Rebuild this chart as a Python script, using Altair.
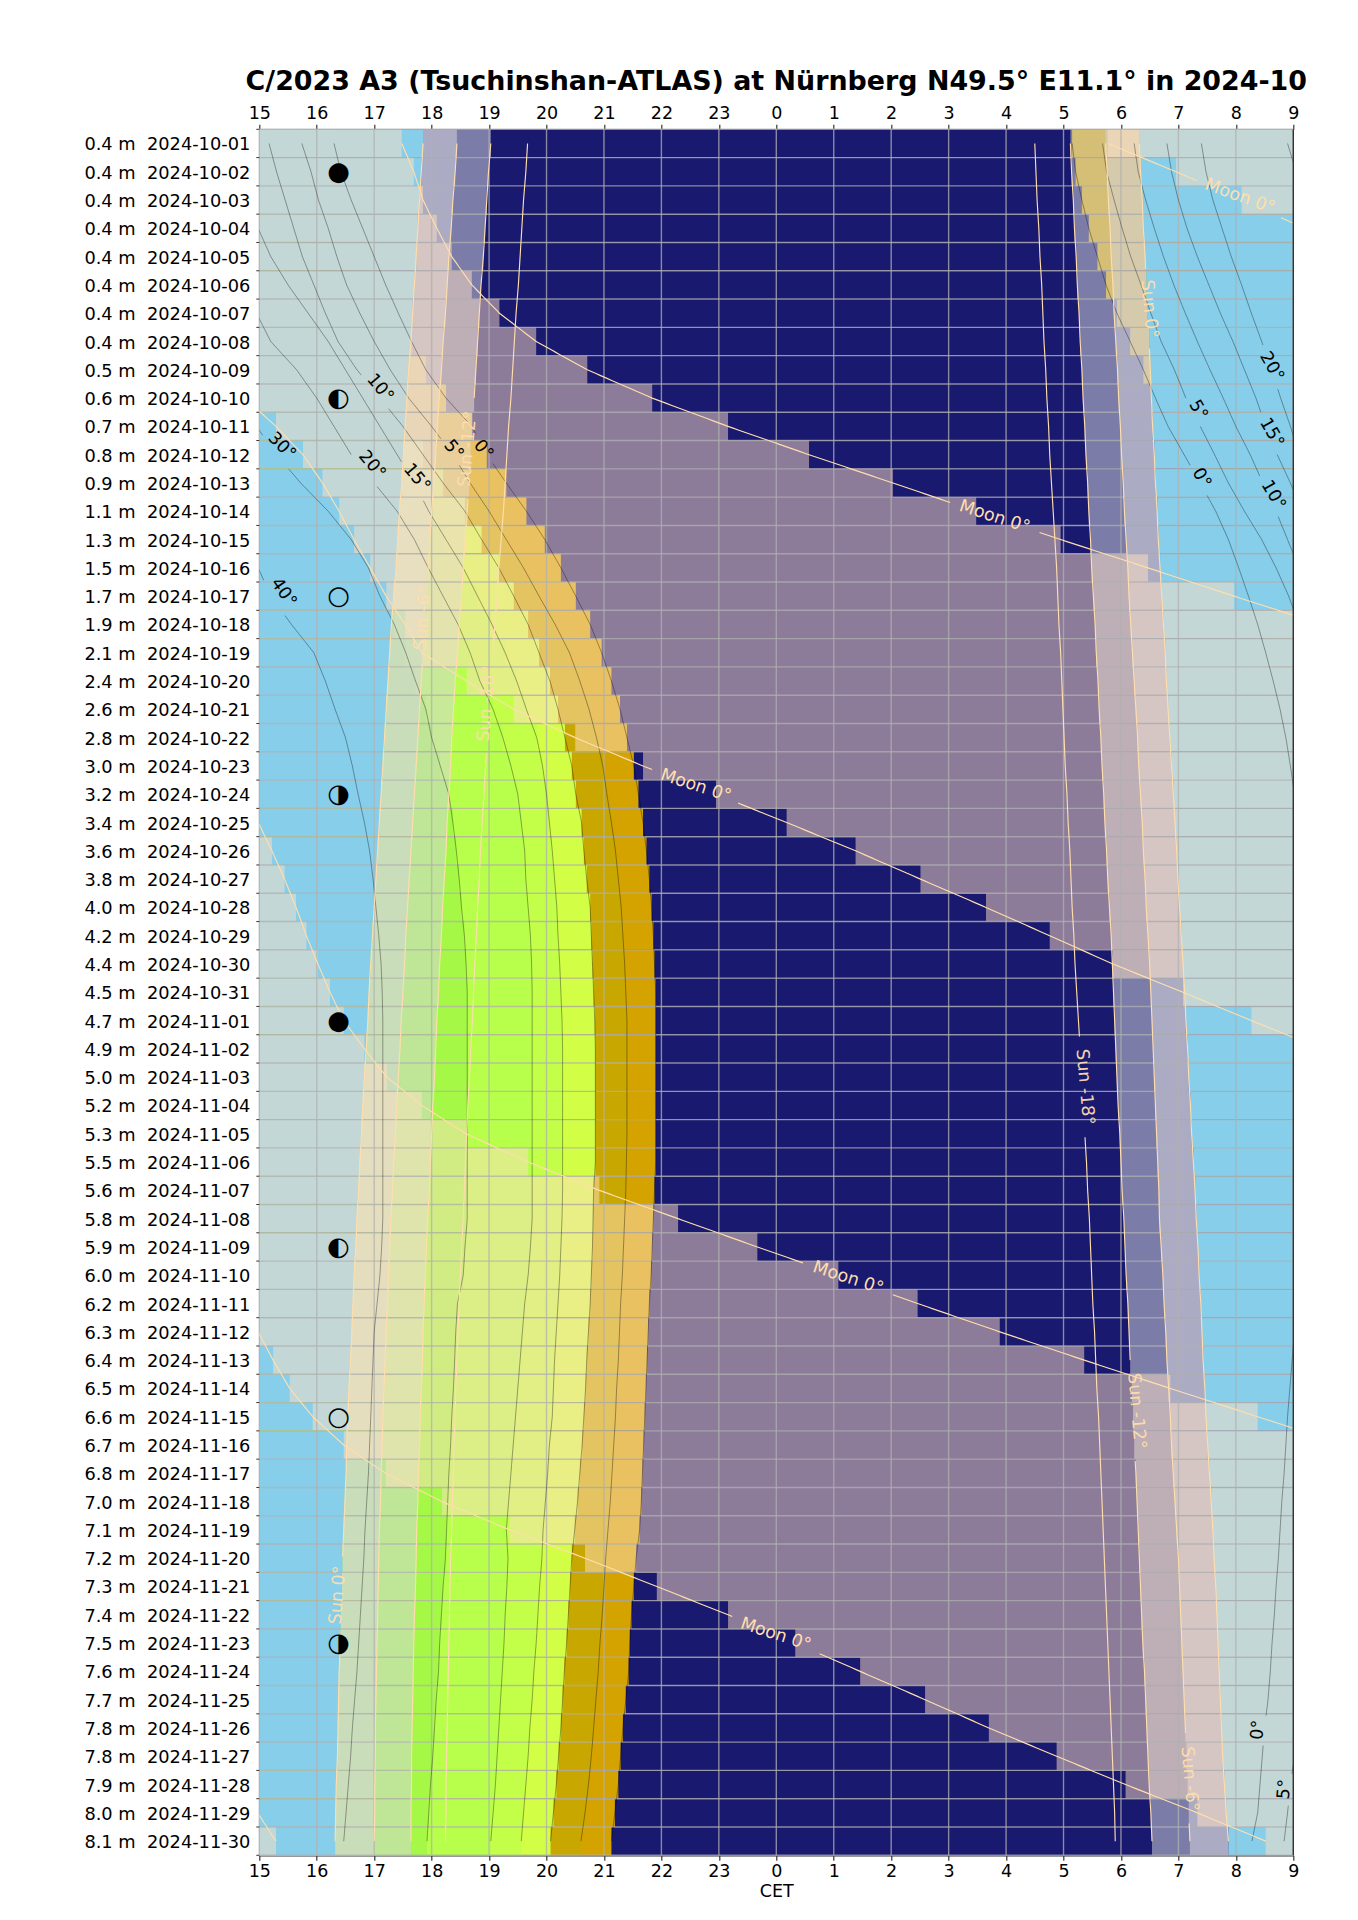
import math
import datetime as dt
import altair as alt
import pandas as pd

TITLE = "C/2023 A3 (Tsuchinshan-ATLAS) at Nürnberg N49.5° E11.1° in 2024-10"
dist = [0.4]*8 + [0.5,0.6,0.7,0.8,0.9,1.1,1.3,1.5,1.7,1.9,2.1,2.4,2.6,2.8,3.0,3.2,3.4,3.6,3.8,4.0,4.2,4.4,4.5,4.7,4.9,5.0,5.2,5.3,5.5,5.6,5.8,5.9,6.0,6.2,6.3,6.4,6.5,6.6,6.7,6.8,7.0,7.1,7.2,7.3,7.4,7.5,7.6,7.7,7.8,7.8,7.9,8.0,8.1]
first_day = dt.date(2024,10,1)
row_labels = [f"{d:.1f} m\u00a0\u00a0{(first_day+dt.timedelta(days=i)).isoformat()}" for i,d in enumerate(dist)]
N = len(row_labels)

# Sun altitude crossings, hours after midnight of the row's date (one value per row)
sun0e = [17.85,17.82,17.79,17.76,17.73,17.70,17.67,17.64,17.60,17.57,17.54,17.51,17.48,17.44,17.41,17.38,17.34,17.30,17.27,17.24,17.21,17.18,17.15,17.12,17.09,17.06,17.03,17.00,16.97,16.94,16.91,16.89,16.86,16.83,16.80,16.78,16.75,16.73,16.70,16.68,16.65,16.63,16.61,16.59,16.56,16.54,16.52,16.51,16.49,16.47,16.45,16.44,16.42,16.41,16.39,16.38,16.37,16.36,16.34,16.33,16.32]
sun6e = [18.44,18.41,18.37,18.34,18.30,18.27,18.24,18.20,18.17,18.13,18.10,18.07,18.04,18.00,17.97,17.94,17.91,17.88,17.85,17.82,17.79,17.76,17.73,17.70,17.67,17.64,17.61,17.58,17.55,17.53,17.50,17.47,17.45,17.42,17.39,17.37,17.34,17.32,17.29,17.27,17.25,17.23,17.21,17.19,17.17,17.15,17.14,17.12,17.11,17.09,17.08,17.07,17.06,17.05,17.04,17.03,17.02,17.02,17.01,17.01,17.0]
sun12e = [19.03,18.99,18.96,18.93,18.90,18.86,18.83,18.80,18.77,18.74,18.71,18.68,18.65,18.62,18.58,18.55,18.52,18.48,18.45,18.41,18.38,18.35,18.33,18.30,18.27,18.25,18.22,18.19,18.17,18.14,18.12,18.09,18.07,18.05,18.02,18.00,17.98,17.96,17.93,17.91,17.89,17.87,17.85,17.84,17.82,17.80,17.79,17.77,17.76,17.74,17.73,17.72,17.70,17.69,17.68,17.67,17.66,17.65,17.65,17.64,17.64]
sun18e = [19.67,19.64,19.60,19.57,19.54,19.51,19.47,19.44,19.41,19.38,19.34,19.31,19.28,19.25,19.21,19.17,19.14,19.10,19.07,19.03,19.00,18.97,18.94,18.91,18.88,18.85,18.83,18.80,18.78,18.75,18.73,18.71,18.68,18.66,18.63,18.61,18.59,18.57,18.55,18.52,18.50,18.48,18.46,18.44,18.42,18.41,18.39,18.38,18.36,18.35,18.33,18.32,18.31,18.30,18.29,18.28,18.27,18.26,18.25,18.25,18.24]
sun18m = [28.50,28.52,28.54,28.57,28.59,28.62,28.64,28.66,28.69,28.71,28.74,28.76,28.79,28.82,28.85,28.88,28.90,28.92,28.95,28.97,28.99,29.01,29.03,29.06,29.08,29.11,29.13,29.15,29.18,29.20,29.23,29.26,29.29,29.31,29.34,29.37,29.40,29.42,29.45,29.47,29.49,29.51,29.54,29.56,29.58,29.61,29.63,29.65,29.67,29.69,29.71,29.73,29.75,29.77,29.79,29.81,29.83,29.85,29.87,29.89,29.90]
sun12m = [29.12,29.14,29.17,29.19,29.22,29.24,29.27,29.29,29.32,29.34,29.37,29.39,29.42,29.44,29.47,29.49,29.52,29.55,29.57,29.60,29.62,29.65,29.67,29.70,29.72,29.75,29.77,29.80,29.83,29.85,29.87,29.89,29.91,29.93,29.95,29.98,30.00,30.02,30.05,30.07,30.09,30.12,30.14,30.16,30.19,30.21,30.23,30.26,30.28,30.30,30.32,30.34,30.36,30.38,30.41,30.43,30.45,30.47,30.49,30.52,30.54]
sun6m = [29.73,29.76,29.78,29.81,29.83,29.86,29.88,29.91,29.94,29.96,29.99,30.01,30.04,30.06,30.09,30.12,30.14,30.17,30.20,30.23,30.26,30.29,30.31,30.34,30.37,30.39,30.42,30.44,30.47,30.50,30.52,30.54,30.56,30.58,30.60,30.62,30.64,30.66,30.67,30.70,30.73,30.75,30.78,30.80,30.83,30.86,30.88,30.91,30.94,30.97,31.0,31.02,31.04,31.06,31.08,31.10,31.12,31.14,31.16,31.18,31.2]
sun0m = [30.32,30.34,30.37,30.39,30.42,30.44,30.46,30.49,30.51,30.53,30.55,30.58,30.60,30.63,30.65,30.68,30.71,30.74,30.77,30.79,30.82,30.85,30.88,30.91,30.94,30.97,30.99,31.02,31.05,31.08,31.11,31.13,31.16,31.18,31.21,31.23,31.26,31.29,31.31,31.34,31.36,31.39,31.41,31.43,31.46,31.48,31.51,31.54,31.57,31.60,31.62,31.65,31.67,31.69,31.71,31.73,31.75,31.77,31.80,31.83,31.87]

# Comet altitude contours, evening (first_row, values)
c0 = (0,[16.30,16.42,16.6,16.8,17.0,17.2,17.42,17.65,17.9,18.25,18.7,18.96,19.3,19.65,19.97,20.25,20.51,20.76,20.96,21.13,21.28,21.40,21.52,21.6,21.68,21.74,21.79,21.83,21.86,21.88,21.9,21.9,21.9,21.9,21.9,21.9,21.9,21.88,21.86,21.84,21.82,21.79,21.77,21.75,21.73,21.71,21.69,21.67,21.65,21.62,21.56,21.52,21.48,21.45,21.43,21.38,21.33,21.29,21.25,21.19,21.13])
c5 = (0,[15.74,15.9,16.03,16.2,16.35,16.52,16.75,17.0,17.28,17.6,18.0,18.37,18.67,19.0,19.3,19.6,19.87,20.15,20.4,20.58,20.74,20.87,20.98,21.05,21.13,21.2,21.25,21.3,21.33,21.36,21.38,21.4,21.4,21.4,21.4,21.4,21.39,21.38,21.36,21.34,21.32,21.29,21.27,21.25,21.22,21.2,21.17,21.14,21.11,21.07,21.03,21.0,20.97,20.93,20.9,20.86,20.82,20.78,20.73,20.67,20.6])
c10 = (0,[15.17,15.3,15.45,15.6,15.75,15.95,16.15,16.37,16.7,17.1,17.5,17.85,18.2,18.58,18.87,19.17,19.43,19.68,19.87,20.06,20.2,20.32,20.44,20.51,20.61,20.65,20.7,20.76,20.78,20.8,20.82,20.84,20.85,20.85,20.85,20.85,20.85,20.82,20.81,20.8,20.78,20.76,20.73,20.7,20.68,20.65,20.62,20.58,20.54,20.49,20.44,20.41,20.38,20.35,20.31,20.28,20.25,20.21,20.17,20.12,20.07])
c15 = (3,[14.98,15.2,15.5,15.85,16.2,16.5,16.8,17.1,17.4,17.7,17.95,18.25,18.55,18.8,19.05,19.28,19.48,19.65,19.83,19.93,20.0,20.05,20.1,20.14,20.18,20.2,20.23,20.25,20.27,20.28,20.28,20.28,20.28,20.28,20.28,20.27,20.25,20.23,20.2,20.17,20.14,20.12,20.1,20.05,20.02,19.98,19.94,19.92,19.88,19.85,19.82,19.78,19.75,19.71,19.68,19.64,19.6,19.56])
c20 = (6,[14.95,15.2,15.65,16.0,16.3,16.6,17.0,17.4,17.7,17.94,18.2,18.46,18.67,18.84,19.07,19.24,19.38,19.5,19.56,19.62,19.64,19.68,19.72,19.74,19.75,19.75,19.75,19.75,19.75,19.75,19.75,19.75,19.75,19.72,19.68,19.62,19.58,19.54,19.5,19.46,19.42,19.38,19.34,19.3,19.33,19.31,19.28,19.26,19.23,19.2,19.17,19.14,19.11,19.07,19.03])
c30 = (10,[14.95,15.3,15.72,16.2,16.6,16.9,17.1,17.35,17.55,17.72,17.9,18.0,18.15,18.3,18.37,18.43,18.48,18.52,18.57,18.6,18.62,18.62,18.62,18.62,18.62,18.62,18.62,18.62,18.62,18.58,18.55,18.45,18.42,18.4,18.38,18.35,18.33,18.3,18.28,18.26,18.24,18.2,18.17,18.14,18.12,18.08,18.05,18.02,17.98,17.95,17.92])
c40 = (15,[14.98,15.2,15.56,15.95,16.15,16.32,16.5,16.62,16.72,16.83,16.92,16.98,17.03,17.08,17.12,17.14,17.15,17.15,17.15,17.15,17.15,17.15,17.15,17.15,17.13,17.1,17.05,17.0,16.98,16.96,16.94,16.92,16.9,16.87,16.84,16.82,16.79,16.76,16.73,16.7,16.66,16.62,16.59,16.55,16.51,16.47])
# morning contours
m0 = (0,[29.15,29.21,29.32,29.44,29.59,29.74,29.93,30.16,30.39,30.6,30.82,31.1,31.38,31.65,31.87,32.05,32.22,32.38,32.52,32.65,32.77,32.87,32.95,33.02])
m5 = (0,[29.68,29.75,29.88,30.02,30.17,30.35,30.52,30.7,30.93,31.13,31.38,31.63,31.87,32.15,32.45,32.7,32.92,33.1])
m10 = (0,[30.23,30.3,30.43,30.58,30.74,30.92,31.12,31.33,31.55,31.78,32.0,32.25,32.47,32.7,32.9,33.1])
m15 = (0,[30.8,30.88,31.0,31.15,31.33,31.53,31.73,31.95,32.15,32.35,32.52,32.72,32.95,33.15])
m20 = (0,[31.4,31.48,31.6,31.76,31.92,32.1,32.27,32.45,32.62,32.78,32.95,33.1])
m30 = (0,[32.9,33.05])
n0 = (42,[33.02,32.98,32.94,32.9,32.87,32.84,32.8,32.77,32.74,32.7,32.67,32.63,32.6,32.56,32.5,32.46,32.42,32.38,32.28])
n5 = (56,[33.1,33.02,32.95,32.9,32.84])

# Moon rise / set, (first_row, values)
moon_e = (0,[29.77,30.96,32.1,33.2])
moon_a = (0,[17.48,17.69,17.85,18.09,18.35,18.7,19.18,19.82,20.71,21.84,23.16,24.57,26.03,27.48,28.95,30.47,31.97,33.5])
moon_b = (9,[14.75,15.29,15.76,16.10,16.39,16.65,16.93,17.21,17.54,17.83,18.61,19.43,20.5,21.68,22.95,24.18,25.38,26.51,27.65,28.76,29.86,31.08,32.27,33.5])
moon_c = (24,[14.98,15.22,15.44,15.64,15.82,16.02,16.23,16.47,16.83,17.22,17.83,18.6,19.68,20.92,22.29,23.67,25.08,26.46,27.89,29.36,30.86,32.38,33.9])
moon_d = (42,[14.98,15.24,15.53,15.93,16.47,17.2,18.18,19.36,20.67,21.92,23.16,24.33,25.46,26.59,27.7,28.88,30.08,31.33,32.52])
moon_f = (59,[14.97,15.29])

phases = [(1,"●"),(9,"◐"),(16,"○"),(23,"◑"),(31,"●"),(39,"◐"),(45,"○"),(53,"◑")]
phase_hour = 16.38

# label: text, hour, row position, angle, series it interrupts
contour_labels = [("10°",17.1,9.15,50,"c10"),("5°",18.38,11.33,50,"c5"),("0°",18.9,11.33,50,"c0"),("20°",16.96,11.86,50,"c20"),("15°",17.74,12.32,50,"c15"),("30°",15.39,11.2,45,"c30"),("40°",15.42,16.37,55,"c40"),
                  ("5°",31.34,9.92,60,"m5"),("0°",31.4,12.33,60,"m0"),("15°",32.62,10.73,60,"m15"),("10°",32.65,12.93,60,"m10"),("20°",32.62,8.39,60,"m20"),
                  ("0°",32.39,56.57,275,"n0"),("5°",32.85,58.67,275,"n5")]
sun_labels = [("Sun -12°",18.63,11.3,275,"sun12e"),("Sun -6°",17.85,17.27,275,"sun6e"),("Sun -18°",18.96,20.3,275,"sun18e"),("Sun 0°",16.37,51.8,275,"sun0e"),
              ("Sun 0°",30.49,6.35,85,"sun0m"),("Sun -18°",29.37,33.85,85,"sun18m"),("Sun -12°",30.27,45.3,85,"sun12m"),("Sun -6°",31.19,58.3,85,"sun6m")]
moon_labels = [("Moon 0°",32.07,2.38,20,"moon_e"),("Moon 0°",27.8,13.7,18,"moon_a"),("Moon 0°",22.6,23.2,18,"moon_b"),("Moon 0°",25.25,40.6,18,"moon_c"),("Moon 0°",23.99,53.2,18,"moon_d")]

NAVY = "#191970"; SKY = "#87ceeb"; WARM = "#ffdead"; TWI = "#d6d6dd"; MOON_FILL = "#ffdfc2"
C_GOLD1 = "#d4a300"; C_GOLD2 = "#c8a800"; C_Y10 = "#d2ff46"; C_Y15 = "#c3ff48"; C_Y20 = "#b7ff4b"; C_Y30 = "#a5f846"

W, H_ = 1034, 1726
PX_H, PX_R = W/18, H_/61

def val(series, r):
    s, v = series
    return v[r-s] if s <= r < s+len(v) else None

rects = []
def rect(r, a, b, color, op=1.0):
    a = max(a,15); b = min(b,33)
    if b > a:
        rects.append(dict(x0=a,x1=b,y0=r,y1=r+1,color=color,op=op))

for r in range(N):
    rect(r,15,33,NAVY)
    for s,col in [(c0,C_GOLD1),(c5,C_GOLD2),(c10,C_Y10),(c15,C_Y15),(c20,C_Y20),(c30,C_Y30)]:
        v = val(s,r)
        if v is not None:
            rect(r,15,v,col)
    v = val(m0,r)
    if v is not None:
        rect(r,v,33,C_GOLD1)
    rect(r,sun0e[r],sun12e[r],TWI,0.53)
    rect(r,sun0e[r],sun6e[r],TWI,0.53)
    rect(r,sun12m[r],sun0m[r],TWI,0.53)
    rect(r,sun6m[r],sun0m[r],TWI,0.53)
    rect(r,15,sun0e[r],SKY)
    rect(r,sun0m[r],33,SKY)
    # moon above the horizon: from its rise to its set within this row
    rises = [x for x in (val(moon_e,r),val(moon_b,r),val(moon_d,r)) if x is not None]
    sets = [x for x in (val(moon_a,r),val(moon_c,r),val(moon_f,r)) if x is not None]
    pts = sorted([(x,1) for x in rises]+[(x,0) for x in sets])
    start = 15 if (pts and pts[0][1]==0) else None
    for x,k in pts:
        if k==1:
            start = x
        else:
            if start is not None:
                rect(r,start,x,MOON_FILL,0.5)
            start = None
    if start is not None:
        rect(r,start,33,MOON_FILL,0.5)
rect_df = pd.DataFrame(rects)

lines = []
lid = [0]
def add_polyline(pts, color, width, op, gaps):
    """pts in (hour,rowpos); break it where its own label sits."""
    seg = []
    def flush():
        nonlocal seg
        if len(seg) > 1:
            lid[0] += 1
            for i,(x,y) in enumerate(seg):
                lines.append(dict(x=x,y=y,id=lid[0],o=i,color=color,w=width,op=op))
        seg = []
    for k in range(len(pts)-1):
        (x0,y0),(x1,y1) = pts[k],pts[k+1]
        n = 16
        for j in range(n + (1 if k==len(pts)-2 else 0)):
            t = j/n
            x,y = x0+(x1-x0)*t, y0+(y1-y0)*t
            hit = any(math.hypot((x-gx)*PX_H,(y-gy)*PX_R) < rad for gx,gy,rad in gaps)
            if hit:
                flush()
            else:
                seg.append((x,y))
    flush()

all_labels = contour_labels+sun_labels+moon_labels
def gaps_for(name):
    return [(x,y,len(t)*5.6+5) for t,x,y,a,n in all_labels if n==name]

for name,s in dict(c0=c0,c5=c5,c10=c10,c15=c15,c20=c20,c30=c30,c40=c40,m0=m0,m5=m5,m10=m10,m15=m15,m20=m20,m30=m30,n0=n0,n5=n5).items():
    pts = [(v,s[0]+i+0.5) for i,v in enumerate(s[1])]
    add_polyline(pts,"#000000",0.9,0.4,gaps_for(name))
for name,arr in dict(sun0e=sun0e,sun6e=sun6e,sun12e=sun12e,sun18e=sun18e,sun18m=sun18m,sun12m=sun12m,sun6m=sun6m,sun0m=sun0m).items():
    pts = [(v,i+0.5) for i,v in enumerate(arr)]
    add_polyline(pts,WARM,1.15,1.0,gaps_for(name))
for name,s in dict(moon_e=moon_e,moon_a=moon_a,moon_b=moon_b,moon_c=moon_c,moon_d=moon_d,moon_f=moon_f).items():
    pts = [(v,s[0]+i+0.5) for i,v in enumerate(s[1])]
    add_polyline(pts,WARM,1.15,1.0,gaps_for(name))
line_df = pd.DataFrame(lines)

label_rows = []
for t,x,y,a,n in contour_labels:
    label_rows.append(dict(t=t,x=x,y=y,a=a,color="#000000",op=1.0))
for t,x,y,a,n in sun_labels:
    label_rows.append(dict(t=t,x=x,y=y,a=a,color=WARM,op=0.95))
for t,x,y,a,n in moon_labels:
    label_rows.append(dict(t=t,x=x,y=y,a=a,color=WARM,op=1.0))
label_df = pd.DataFrame(label_rows)

phase_df = pd.DataFrame([dict(t=g,x=phase_hour,y=r+0.5) for r,g in phases])
row_df = pd.DataFrame([dict(t=s,y=i+0.5) for i,s in enumerate(row_labels)])

sx = alt.Scale(domain=[15,33],nice=False,zero=False)
sy = alt.Scale(domain=[0,61],nice=False,zero=False,reverse=True)
FONT = "DejaVu Sans"
hour_vals = list(range(15,34))
hour_expr = "datum.value % 24"

y_axis = alt.Axis(orient="left",values=[i+0.5 for i in range(N)],labels=False,title=None,grid=False,
                  tickSize=5,tickColor="#333333",tickWidth=1.2,domainColor="#333333",domainWidth=1.4)
def x_axis(orient,title,pad):
    return alt.Axis(orient=orient,values=hour_vals,labelExpr=hour_expr,title=title,grid=False,labelFont=FONT,labelFontSize=17.5,labelColor="#000000",
                    tickSize=5,tickColor="#333333",tickWidth=1.2,domainColor="#333333",domainWidth=1.4,labelPadding=pad,labelOverlap=False,
                    titleFont=FONT,titleFontSize=17.5,titleFontWeight="normal",titleColor="#000000",titlePadding=3,labelFlush=False)

rect_layer = alt.Chart(rect_df).mark_rect(stroke=None).encode(
    x=alt.X("x0:Q",scale=sx,axis=None),x2="x1:Q",
    y=alt.Y("y0:Q",scale=sy,axis=y_axis),y2="y1:Q",
    color=alt.Color("color:N",scale=None),opacity=alt.Opacity("op:Q",scale=None))

vgrid = alt.Chart(pd.DataFrame({"v":hour_vals})).mark_rule(color="#b0b0b0",strokeWidth=1.4,opacity=0.75).encode(x=alt.X("v:Q",scale=sx,axis=x_axis("bottom","CET",2)))
hgrid = alt.Chart(pd.DataFrame({"r":list(range(N+1))})).mark_rule(color="#b0b0b0",strokeWidth=1.4,opacity=0.75).encode(y=alt.Y("r:Q",scale=sy,axis=None))
top_axis = alt.Chart(pd.DataFrame({"v":hour_vals})).mark_rule(opacity=0).encode(x=alt.X("v:Q",scale=sx,axis=x_axis("top",None,2)))

line_layer = alt.Chart(line_df).mark_line(clip=True,interpolate="linear").encode(
    x=alt.X("x:Q",scale=sx,axis=None),y=alt.Y("y:Q",scale=sy,axis=None),detail="id:N",order="o:Q",
    color=alt.Color("color:N",scale=None),strokeWidth=alt.StrokeWidth("w:Q",scale=None),opacity=alt.Opacity("op:Q",scale=None))

text_layer = alt.Chart(label_df).mark_text(font=FONT,fontSize=17.5,align="center",baseline="middle").encode(
    x=alt.X("x:Q",scale=sx,axis=None),y=alt.Y("y:Q",scale=sy,axis=None),text="t:N",
    angle=alt.Angle("a:Q",scale=None),color=alt.Color("color:N",scale=None),opacity=alt.Opacity("op:Q",scale=None))

phase_layer = alt.Chart(phase_df).mark_text(font=FONT,fontSize=26,align="center",baseline="middle",color="#000000").encode(
    x=alt.X("x:Q",scale=sx,axis=None),y=alt.Y("y:Q",scale=sy,axis=None),text="t:N")

row_text = alt.Chart(row_df).mark_text(font=FONT,fontSize=17.8,align="right",baseline="middle",color="#000000",dy=2).encode(
    x=alt.value(-9),y=alt.Y("y:Q",scale=sy,axis=None),text="t:N")

minor = alt.Chart(pd.DataFrame({"r":list(range(N+1))})).mark_rule(color="#333333",strokeWidth=1.0).encode(
    y=alt.Y("r:Q",scale=sy,axis=None),x=alt.value(-3),x2=alt.value(0))
right_edge = alt.Chart(pd.DataFrame({"v":[33]})).mark_rule(color="#333333",strokeWidth=1.4).encode(x=alt.X("v:Q",scale=sx,axis=None))

chart = alt.layer(rect_layer,vgrid,hgrid,line_layer,text_layer,phase_layer,row_text,minor,right_edge,top_axis).resolve_axis(x="independent",y="shared").properties(
    width=W,height=H_,
    autosize=alt.AutoSizeParams(type="none"),
    padding={"left":251.3,"top":121.3,"right":56,"bottom":56},
    background="white",
    title=alt.TitleParams(TITLE,font=FONT,fontSize=26.9,fontWeight="bold",color="#000000",anchor="middle",offset=8),
).configure_view(stroke=None)

chart.save("out.html",embed_options={"renderer":"svg","actions":False})
